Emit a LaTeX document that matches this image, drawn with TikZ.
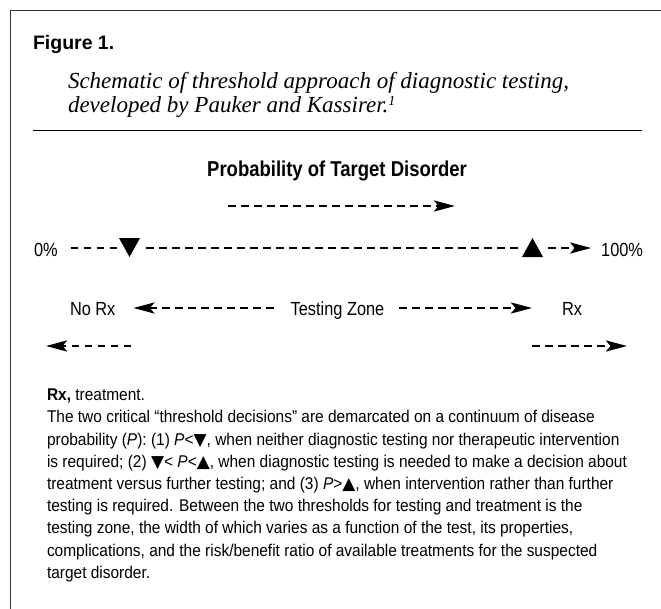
\documentclass[tikz,border=0pt]{standalone}
\usepackage{fontspec}
\setmainfont{Liberation Sans}
\newfontfamily\condsans[FakeStretch=0.86]{Liberation Sans}
\newfontfamily\notesans[FakeStretch=0.91]{Liberation Sans}
\newfontfamily\capserif{Liberation Serif}
\newfontfamily\symfont{DejaVu Sans}
\usetikzlibrary{arrows.meta}
\begin{document}
\begin{tikzpicture}[x=1bp,y=-1bp,
  every node/.style={inner sep=0pt, outer sep=0pt},
  frameline/.style={line width=1.4bp, draw=black!80},
  ruleline/.style={line width=1.1bp, draw=black},
  figlabel/.style={font=\fontsize{19.5bp}{23bp}\selectfont\bfseries},
  captext/.style={font=\capserif\itshape\fontsize{23bp}{23bp}\selectfont},
  titletext/.style={font=\condsans\bfseries\fontsize{21.5bp}{24bp}\selectfont},
  lbl/.style={font=\condsans\fontsize{19bp}{23bp}\selectfont},
  notetext/.style={font=\notesans\fontsize{17bp}{22.2bp}\selectfont, align=left},
  dashline/.style={line width=2.9bp, dash pattern=on 7.5bp off 5.5bp},
  dasharrow/.style={dashline, -{Stealth[length=21bp,width=11bp,inset=4.5bp]}},
  tridown/.style={minimum width=21bp, minimum height=19bp, path picture={\fill (path picture bounding box.north west) -- (path picture bounding box.north east) -- (path picture bounding box.south) -- cycle;}},
  triup/.style={minimum width=21bp, minimum height=19bp, path picture={\fill (path picture bounding box.south west) -- (path picture bounding box.south east) -- (path picture bounding box.north) -- cycle;}},
]
\useasboundingbox (0,0) rectangle (661,609);
% frame
\draw[frameline] (10.7,609) coordinate (fBL) -- (10.7,10.7) coordinate (fTL) -- (661,10.7) coordinate (fTR);
% heading
\node[figlabel, anchor=base west] (fig) at (33,50) {Figure 1.};
\node[captext, anchor=base west] (cap1) at (68,89) {Schematic of threshold approach of diagnostic testing,};
\node[captext, anchor=base west] (cap2) at (68,112.5) {developed by Pauker and Kassirer.\raisebox{0.32em}{\fontsize{14bp}{14bp}\selectfont 1}};
\draw[ruleline] (33,130.5) coordinate (ruleL) -- (642,130.5) coordinate (ruleR);
% title
\node[titletext, anchor=base] (ptitle) at (337,177) {Probability of Target Disorder};
\coordinate (upS) at (228,206);
\coordinate (upE) at (455,206);
\draw[dasharrow] (upS) -- (upE);
% row levels
\coordinate (r2) at (0,248);
\coordinate (r3) at (0,308);
% row 2
\node[lbl, anchor=base west] (zero) at (34,256.7) {0\%};
\node[tridown] (tTest) at (129.5,247.5) {};
\node[triup] (tTreat) at (532.5,247.5) {};
\node[lbl, anchor=base east] (hundred) at (643,256.7) {100\%};
\draw[dashline, shorten <=13bp] (zero.east |- r2) -- (tTest.west |- r2);
\draw[dashline, shorten <=6bp, shorten >=4bp] (tTest.east |- r2) -- (tTreat.west |- r2);
\draw[dasharrow, shorten <=5bp, shorten >=10bp] (tTreat.east |- r2) -- (hundred.west |- r2);
% row 3
\node[lbl, anchor=base west] (norx) at (70,315) {No Rx};
\node[lbl, anchor=base] (tzone) at (337.5,315) {Testing Zone};
\node[lbl, anchor=base west] (rx) at (562,315) {Rx};
\draw[dasharrow, shorten <=17bp, shorten >=18bp] (tzone.west |- r3) -- (norx.east |- r3);
\draw[dasharrow, shorten <=15bp, shorten >=30bp] (tzone.east |- r3) -- (rx.west |- r3);
% row 4
\coordinate (lS) at (131,346);
\coordinate (lE) at (46,346);
\coordinate (rS) at (532,346);
\coordinate (rE) at (627,346);
\draw[dasharrow] (lS) -- (lE);
\draw[dasharrow] (rS) -- (rE);
% note (base anchor = baseline of the last line)
\node[notetext, anchor=base west] (note) at (47,578.3) {\textbf{Rx,} treatment.\\
The two critical “threshold decisions” are demarcated on a continuum of disease\\
probability (\textit{P}): (1) \textit{P}<{\symfont ▼}, when neither diagnostic testing nor therapeutic intervention\\
is required; (2) {\symfont ▼}< \textit{P}<{\symfont ▲}, when diagnostic testing is needed to make a decision about\\
treatment versus further testing; and (3) \textit{P}>{\symfont ▲}, when intervention rather than further\\
testing is required. Between the two thresholds for testing and treatment is the\\
testing zone, the width of which varies as a function of the test, its properties,\\
complications, and the risk/benefit ratio of available treatments for the suspected\\
target disorder.};
\end{tikzpicture}
\end{document}
